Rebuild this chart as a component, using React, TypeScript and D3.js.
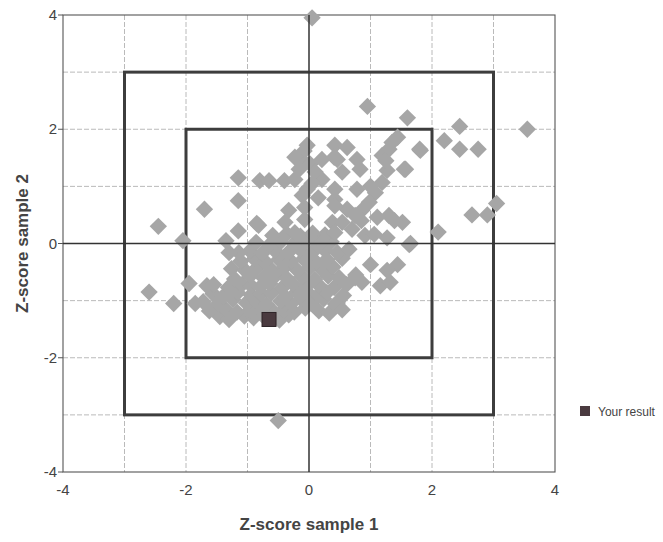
import * as d3 from "d3";
import * as React from "react";

// axis ticks and grid
const xTicks = [-4, -2, 0, 2, 4];
const yTicks = [-4, -2, 0, 2, 4];
const gridSteps = [-3, -2, -1, 1, 2, 3];
const limitBoxes = [2, 3];

// the participant's own result (sample 1, sample 2)
const yourResult: [number, number] = [-0.65, -1.33];

// other labs' z-scores
const outliers: Array<[number, number]> = [
    [0.05, 3.95], [-0.5, -3.1],
    [0.95, 2.4], [1.6, 2.2], [2.45, 2.05], [3.55, 2.0], [2.2, 1.8], [2.45, 1.65], [2.75, 1.65],
    [1.8, 1.65], [1.55, 1.3], [2.65, 0.5], [2.9, 0.5], [3.05, 0.7], [2.1, 0.2], [1.65, 0.0],
    [-1.15, 1.15], [-0.8, 1.1], [-0.65, 1.1], [-0.4, 1.1], [-1.15, 0.75], [-1.7, 0.6],
    [-2.45, 0.3], [-2.05, 0.05], [-1.35, 0.05], [-1.15, 0.22], [-0.85, 0.35],
    [-2.6, -0.85], [-2.2, -1.05], [-1.95, -0.7], [-1.85, -1.05], [-1.55, -0.72], [-1.14, -0.16], [-1.3, -0.16],
];

const upperArm: Array<[number, number]> = [
    [-0.03, 1.72], [-0.08, 1.62], [0.42, 1.72], [0.62, 1.68], [0.46, 1.47], [0.78, 1.47], [0.83, 1.3],
    [0.54, 1.25], [0.21, 1.47], [0.21, 1.12], [0.42, 0.95], [-0.07, 1.42], [-0.03, 0.95], [-0.23, 1.51],
    [-0.16, 1.3], [-0.23, 1.12], [-0.11, 0.84], [-0.07, 0.63], [-0.33, 0.58], [-0.39, 0.37], [-0.82, 0.32],
    [-0.07, 0.42], [-0.23, 0.19], [0.02, 1.39], [0.41, 1.51], [0.42, 0.77], [0.38, 0.37], [0.62, 0.6],
    [0.1, 1.25], [0.05, 1.05], [0.15, 0.8],
];

const diagonalArm: Array<[number, number]> = [
    [1.19, 1.54], [1.27, 1.28], [1.19, 1.07], [1.35, 1.77], [1.44, 1.86], [1.57, 1.3], [1.81, 1.63],
    [1.08, 0.89], [0.98, 0.72], [0.78, 0.95], [1.3, 1.65], [1.25, 1.45], [0.42, 0.66], [0.86, 0.58],
    [0.75, 0.49], [1.3, 0.49], [1.52, 0.37], [0.91, 0.14], [0.54, 0.37], [0.42, 0.19], [0.21, 0.02],
    [0.65, -0.1], [1.11, 0.46], [1.39, 0.4], [1.27, 0.1], [1.06, 0.16], [1.63, -0.02], [1.0, -0.37],
    [1.44, -0.37], [1.27, -0.47], [1.16, -0.74], [1.32, -0.68], [0.86, -0.68], [0.75, -0.6],
    [0.46, -1.04], [0.54, -1.16], [0.7, 0.25], [0.85, 0.4], [1.0, 1.0],
];

const mainBlob: Array<[number, number]> = [
    [-1.45, -1.28], [-1.3, -1.33], [-1.05, -1.27], [-0.9, -1.3], [-0.75, -1.26], [-0.48, -1.34], [-0.33, -1.25],
    [-1.62, -1.18], [-1.36, -1.15], [-1.17, -1.2], [-0.96, -1.17], [-0.81, -1.14], [-0.58, -1.19], [-0.41, -1.16],
    [-0.24, -1.2], [-0.06, -1.13], [0.16, -1.18], [0.33, -1.22],
    [-1.72, -1.02], [-1.48, -1.06], [-1.24, -0.98], [-1.02, -1.04], [-0.86, -1.0], [-0.69, -1.07], [-0.46, -1.01],
    [-0.29, -1.05], [-0.12, -0.98], [0.04, -1.03], [0.24, -0.97], [0.43, -1.06],
    [-1.56, -0.88], [-1.39, -0.92], [-1.16, -0.86], [-0.94, -0.9], [-0.78, -0.88], [-0.61, -0.87], [-0.39, -0.93],
    [-0.2, -0.85], [0.01, -0.89], [0.15, -0.9], [0.29, -0.86], [0.56, -0.91],
    [-1.66, -0.74], [-1.31, -0.77], [-1.09, -0.72], [-0.94, -0.74], [-0.79, -0.76], [-0.64, -0.7], [-0.44, -0.78],
    [-0.26, -0.71], [-0.04, -0.75], [0.16, -0.73], [0.41, -0.77], [0.61, -0.72],
    [-1.21, -0.62], [-0.96, -0.57], [-0.74, -0.6], [-0.54, -0.56], [-0.36, -0.61], [-0.11, -0.58], [0.09, -0.63],
    [0.31, -0.57], [0.49, -0.6], [0.76, -0.55],
    [-1.26, -0.44], [-1.04, -0.47], [-0.84, -0.42], [-0.61, -0.46], [-0.41, -0.43], [-0.19, -0.47], [0.01, -0.42],
    [0.21, -0.46], [0.39, -0.41],
    [-1.11, -0.31], [-0.89, -0.27], [-0.71, -0.32], [-0.49, -0.28], [-0.29, -0.31], [-0.09, -0.27], [0.11, -0.32],
    [0.29, -0.28], [0.54, -0.26],
    [-0.96, -0.13], [-0.76, -0.17], [-0.56, -0.12], [-0.34, -0.16], [-0.14, -0.11], [0.06, -0.15], [0.26, -0.12], [0.46, -0.16],
    [-0.86, 0.02], [-0.64, -0.02], [-0.46, 0.03], [-0.24, 0.0], [-0.04, 0.04], [0.14, -0.01], [0.36, 0.03],
    [-0.59, 0.14], [-0.36, 0.17], [-0.14, 0.13], [0.06, 0.18], [0.26, 0.15],
];

const WIDTH = 663;
const HEIGHT = 542;
const FONT = "'Liberation Sans', Arial, sans-serif";

export default class App extends React.Component<{}, {}> {
    mountRef: SVGSVGElement | null = null;

    componentDidMount() {
        const svg = d3.select(this.mountRef!);
        svg.selectAll("*").remove();

        const x = d3.scaleLinear().domain([-4, 4]).range([63, 555]);
        const y = d3.scaleLinear().domain([-4, 4]).range([472, 15]);

        const peers = [...mainBlob, ...upperArm, ...diagonalArm, ...outliers];

        // dashed grid
        const grid = svg.append("g")
            .attr("stroke", "#a8a8a8")
            .attr("stroke-width", 0.8)
            .attr("stroke-dasharray", "5,2");
        grid.selectAll("line.v").data(gridSteps).join("line")
            .attr("class", "v")
            .attr("x1", d => x(d)).attr("x2", d => x(d))
            .attr("y1", y(4)).attr("y2", y(-4));
        grid.selectAll("line.h").data(gridSteps).join("line")
            .attr("class", "h")
            .attr("y1", d => y(d)).attr("y2", d => y(d))
            .attr("x1", x(-4)).attr("x2", x(4));

        // plot frame
        svg.append("rect")
            .attr("x", x(-4)).attr("y", y(4))
            .attr("width", x(4) - x(-4)).attr("height", y(-4) - y(4))
            .attr("fill", "none")
            .attr("stroke", "#555")
            .attr("stroke-width", 1.1);

        // +/-2 and +/-3 limit boxes
        svg.append("g").selectAll("rect").data(limitBoxes).join("rect")
            .attr("x", d => x(-d)).attr("y", d => y(d))
            .attr("width", d => x(d) - x(-d))
            .attr("height", d => y(-d) - y(d))
            .attr("fill", "none")
            .attr("stroke", "#3d3d3d")
            .attr("stroke-width", 3);

        // peer results as diamonds
        const diamond = d3.symbol().type(d3.symbolSquare).size(150)();
        svg.append("g").selectAll("path").data(peers).join("path")
            .attr("d", diamond)
            .attr("transform", d => `translate(${x(d[0])},${y(d[1])}) rotate(45)`)
            .attr("fill", "#a6a6a6");

        // zero axes on top
        svg.append("line")
            .attr("x1", x(0)).attr("x2", x(0)).attr("y1", y(4)).attr("y2", y(-4))
            .attr("stroke", "#333").attr("stroke-width", 1.5);
        svg.append("line")
            .attr("y1", y(0)).attr("y2", y(0)).attr("x1", x(-4)).attr("x2", x(4))
            .attr("stroke", "#333").attr("stroke-width", 1.5);

        // own result
        svg.append("rect")
            .attr("x", x(yourResult[0]) - 7).attr("y", y(yourResult[1]) - 7)
            .attr("width", 14).attr("height", 14)
            .attr("fill", "#4a3a3f")
            .attr("stroke", "#2e2427").attr("stroke-width", 1);

        // tick labels
        svg.append("g").selectAll("text").data(xTicks).join("text")
            .attr("x", d => x(d))
            .attr("y", y(-4) + 23)
            .attr("text-anchor", "middle")
            .attr("font-family", FONT).attr("font-size", 15).attr("fill", "#444")
            .text(d => d);
        svg.append("g").selectAll("text").data(yTicks).join("text")
            .attr("x", x(-4) - 6)
            .attr("y", d => y(d) + 5)
            .attr("text-anchor", "end")
            .attr("font-family", FONT).attr("font-size", 15).attr("fill", "#444")
            .text(d => d);
        svg.append("g").selectAll("line").data(yTicks).join("line")
            .attr("x1", x(-4) - 5).attr("x2", x(-4))
            .attr("y1", d => y(d)).attr("y2", d => y(d))
            .attr("stroke", "#555");

        // axis titles
        svg.append("text")
            .attr("x", x(0)).attr("y", 530)
            .attr("text-anchor", "middle")
            .attr("font-family", FONT).attr("font-size", 17).attr("font-weight", "bold").attr("fill", "#444")
            .text("Z-score sample 1");
        svg.append("text")
            .attr("transform", `translate(28,${y(0)}) rotate(-90)`)
            .attr("text-anchor", "middle")
            .attr("font-family", FONT).attr("font-size", 17).attr("font-weight", "bold").attr("fill", "#444")
            .text("Z-score sample 2");

        // legend
        const legend = svg.append("g").attr("transform", "translate(580,406)");
        legend.append("rect")
            .attr("width", 10).attr("height", 10)
            .attr("fill", "#4a3a3f");
        legend.append("text")
            .attr("x", 18).attr("y", 10)
            .attr("font-family", FONT).attr("font-size", 12).attr("fill", "#444")
            .text("Your result");
    }

    render() {
        return (
            <svg
                ref={ref => { this.mountRef = ref; }}
                width={WIDTH}
                height={HEIGHT}
                style={{ position: "absolute", left: 0, top: 0, background: "#fff" }}
            />
        );
    }
}
